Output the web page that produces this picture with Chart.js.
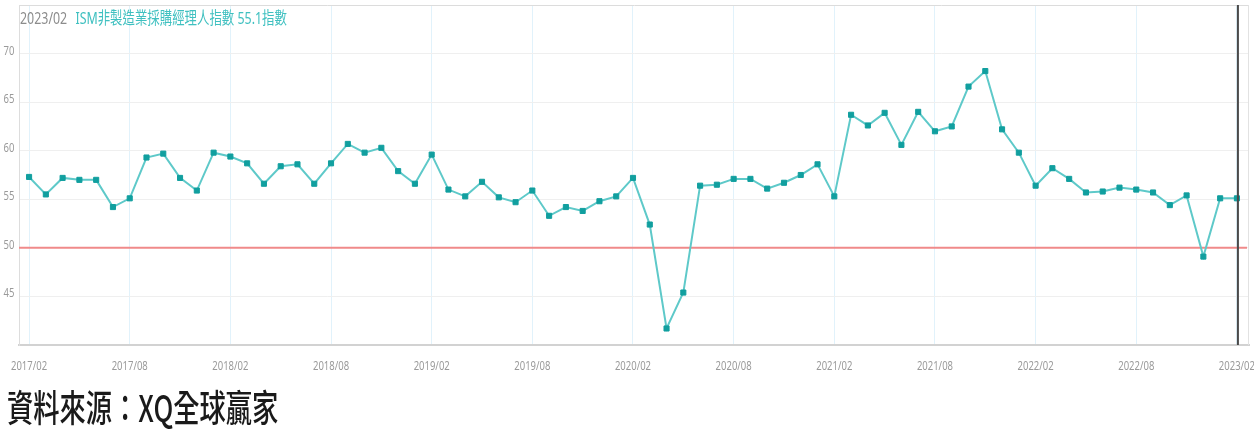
<!DOCTYPE html>
<html>
<head>
<meta charset="utf-8">
<script src="https://cdn.jsdelivr.net/npm/chart.js@4.4.0/dist/chart.umd.min.js"></script>
<style>
  body { margin: 0; background: #fff; }
  #wrap { width: 1254px; height: 436px; position: relative; }
</style>
</head>
<body>
<div id="wrap"><canvas id="ism" width="1254" height="436"></canvas></div>
<script>
// ISM services PMI, monthly 2017/02 .. 2023/02
const pmiValues = [
  57.3, 55.5, 57.2, 57.0, 57.0, 54.2, 55.1, 59.3, 59.7, 57.2, 55.9,
  59.8, 59.4, 58.7, 56.6, 58.4, 58.6, 56.6, 58.7, 60.7, 59.8, 60.3, 57.9, 56.6,
  59.6, 56.0, 55.3, 56.8, 55.2, 54.7, 55.9, 53.3, 54.2, 53.8, 54.8, 55.3,
  57.2, 52.4, 41.7, 45.4, 56.4, 56.5, 57.1, 57.1, 56.1, 56.7, 57.5, 58.6,
  55.3, 63.7, 62.6, 63.9, 60.6, 64.0, 62.0, 62.5, 66.6, 68.2, 62.2, 59.8,
  56.4, 58.2, 57.1, 55.7, 55.8, 56.2, 56.0, 55.7, 54.4, 55.4, 49.1, 55.1,
  55.1
];
const tickLabels = [
  '2017/02', '2017/08', '2018/02', '2018/08', '2019/02', '2019/08', '2020/02',
  '2020/08', '2021/02', '2021/08', '2022/02', '2022/08', '2023/02'
];
const yTicks = [45, 50, 55, 60, 65, 70];
const threshold = 50;
const titleDate = '2023/02';
const titleText = 'ISM非製造業採購經理人指數 55.1指數';
const sourceText = '資料來源：XQ全球贏家';

const SQUEEZE = 0.73;
const FONT = '"Noto Sans", "Noto Sans CJK TC", sans-serif';

function squeezedText(ctx, text, x, y, font, color, align, baseline, sx) {
  ctx.save();
  ctx.font = font;
  ctx.fillStyle = color;
  ctx.textAlign = align || 'left';
  ctx.textBaseline = baseline || 'alphabetic';
  ctx.translate(x, y);
  ctx.scale(sx || SQUEEZE, 1);
  ctx.fillText(text, 0, 0);
  ctx.restore();
}

const overlay = {
  id: 'overlay',
  beforeDatasetsDraw(chart) {
    const { ctx, chartArea: a, scales: { y } } = chart;
    ctx.save();
    // right frame edge
    ctx.strokeStyle = '#e2e2e2';
    ctx.lineWidth = 1;
    ctx.beginPath();
    ctx.moveTo(a.right - 0.5, a.top);
    ctx.lineTo(a.right - 0.5, a.bottom);
    ctx.stroke();
    // 50 line
    const ty = y.getPixelForValue(threshold);
    ctx.strokeStyle = '#f08a8a';
    ctx.lineWidth = 2;
    ctx.beginPath();
    ctx.moveTo(a.left, ty);
    ctx.lineTo(a.right - 2, ty);
    ctx.stroke();
    ctx.restore();
  },
  afterDraw(chart) {
    const { ctx, chartArea: a, scales: { x, y } } = chart;
    // cursor line at last month
    const lx = x.getPixelForValue(pmiValues.length - 1) + 1;
    ctx.save();
    ctx.strokeStyle = '#4a4a4a';
    ctx.lineWidth = 2;
    ctx.beginPath();
    ctx.moveTo(lx, a.top);
    ctx.lineTo(lx, a.bottom);
    ctx.stroke();
    ctx.restore();

    // y labels
    yTicks.forEach(v => {
      squeezedText(ctx, String(v), 9, y.getPixelForValue(v) + 1, '13px ' + FONT, '#9a9a9a', 'center', 'alphabetic');
    });
    // x labels
    tickLabels.forEach((t, i) => {
      squeezedText(ctx, t, x.getPixelForValue(i * 6), 366, '13px ' + FONT, '#9a9a9a', 'center', 'middle');
    });

    // title
    ctx.save();
    ctx.font = '17px ' + FONT;
    const w = ctx.measureText(titleDate + ' ').width * SQUEEZE;
    ctx.restore();
    squeezedText(ctx, titleDate, 20, 24, '17px ' + FONT, '#8c8c8c');
    squeezedText(ctx, titleText, 20 + w + 5, 24, '17px ' + FONT, '#3fc0c0');

    // source
    squeezedText(ctx, sourceText, 7, 422, '500 37px "Noto Sans CJK TC", serif', '#1a1a1a', 'left', 'alphabetic', 0.71);
  }
};

new Chart(document.getElementById('ism'), {
  type: 'line',
  data: {
    datasets: [{
      data: pmiValues.map((v, i) => ({ x: i, y: v })),
      borderColor: '#5ec9c9',
      borderWidth: 2,
      pointStyle: 'rect',
      pointRadius: 3.6,
      pointBackgroundColor: '#119f9f',
      pointBorderColor: '#119f9f',
      pointBorderWidth: 1,
      tension: 0
    }]
  },
  options: {
    responsive: false,
    animation: false,
    layout: { padding: { left: 19, top: 4, right: 4, bottom: 91 } },
    plugins: { legend: { display: false }, tooltip: { enabled: false } },
    scales: {
      x: {
        type: 'linear',
        min: -0.6,
        max: pmiValues.length - 1 + 0.72,
        afterBuildTicks: s => { s.ticks = tickLabels.map((t, i) => ({ value: i * 6 })); },
        ticks: { display: false },
        grid: { color: 'rgba(220,240,250,0.85)', drawTicks: false },
        border: { color: '#d2d2d2', width: 2 }
      },
      y: {
        min: 40,
        max: 75,
        afterBuildTicks: s => { s.ticks = [40, 45, 50, 55, 60, 65, 70, 75].map(v => ({ value: v })); },
        ticks: { display: false },
        grid: { color: v => v.tick.value === 75 ? '#dcdcdc' : '#efefef', drawTicks: false },
        border: { color: '#dddddd', width: 1 }
      }
    }
  },
  plugins: [overlay]
});
</script>
</body>
</html>
